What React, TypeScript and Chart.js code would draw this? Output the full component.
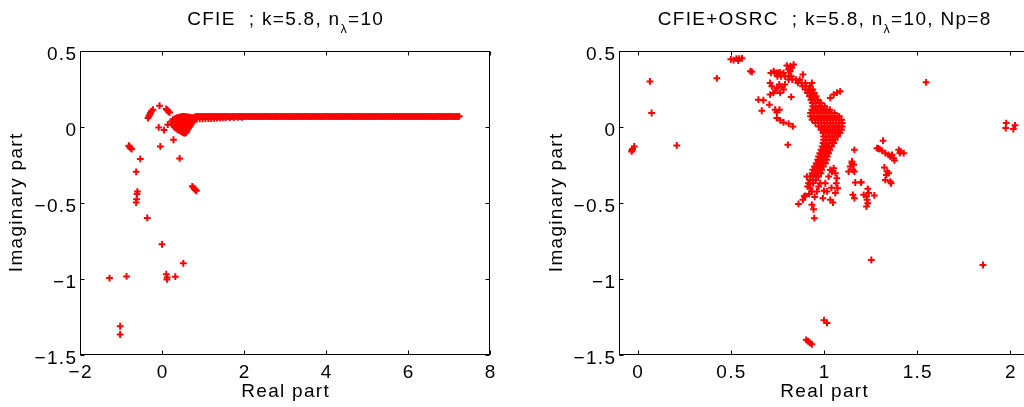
import React, { useEffect, useRef } from 'react';
import { Chart, registerables } from 'chart.js';
Chart.register(...registerables);

type Pt = [number, number];

// ---------- tick values ----------
const yTicks = [-1.5, -1, -0.5, 0, 0.5];
const cfieXTicks = [-2, 0, 2, 4, 6, 8];
const osrcXTicks = [0, 0.5, 1, 1.5, 2];

// ---------- left panel: CFIE eigenvalues ----------
const cfieOutliers: Pt[] = [
  [-1.28, -0.994], [-1.02, -1.311], [-1.02, -1.365], [-0.864, -0.983],
  [-0.81, -0.123], [-0.79, -0.13], [-0.77, -0.139], [-0.74, -0.145],
  [-0.53, -0.21], [-0.63, -0.295], [-0.6, -0.425], [-0.61, -0.44], [-0.62, -0.475], [-0.63, -0.497],
  [-0.36, -0.598],
  [-0.34, 0.059], [-0.32, 0.07], [-0.3, 0.081], [-0.28, 0.092], [-0.26, 0.103], [-0.22, 0.114],
  [-0.06, 0.14], [0.105, 0.119], [0.125, 0.112], [0.14, 0.108], [0.16, 0.1], [0.185, 0.096],
  [-0.08, -0.003], [0.05, -0.02], [-0.04, -0.128], [0.14, 0.015], [0.28, -0.084], [0.43, -0.207],
  [0.74, -0.39], [0.77, -0.4], [0.8, -0.41], [0.82, -0.415], [0.84, -0.42],
  [0.0, -0.772], [0.52, -0.897], [0.105, -0.968], [0.12, -1.003], [0.125, -0.99], [0.325, -0.985],
];

const cfieCluster: Pt[] = [
  [0.227, 0.037], [0.25, 0.02], [0.266, 0.015], [0.29, 0.005], [0.308, 0], [0.33, -0.005],
  [0.349, -0.007], [0.37, -0.012], [0.388, -0.018], [0.41, -0.02], [0.43, -0.022], [0.45, -0.026],
  [0.47, -0.029], [0.49, -0.032], [0.51, -0.035], [0.53, -0.038], [0.552, -0.04], [0.57, -0.038],
  [0.593, -0.035], [0.61, -0.025], [0.632, -0.013], [0.65, -0.005], [0.674, 0.004], [0.695, 0.012],
  [0.715, 0.022], [0.735, 0.03], [0.755, 0.037], [0.78, 0.045], [0.8, 0.05],
  [0.266, 0.048], [0.3, 0.052], [0.33, 0.057], [0.36, 0.06], [0.388, 0.061], [0.42, 0.063],
  [0.45, 0.066], [0.48, 0.068], [0.51, 0.07], [0.54, 0.07], [0.57, 0.068], [0.6, 0.066],
  [0.63, 0.066], [0.66, 0.064], [0.7, 0.063], [0.74, 0.062], [0.78, 0.062],
  [0.3, 0.03], [0.35, 0.025], [0.4, 0.02], [0.45, 0.015], [0.5, 0.01], [0.55, 0.005],
  [0.6, 0.01], [0.65, 0.02], [0.7, 0.035], [0.75, 0.048],
  [0.35, 0.042], [0.4, 0.04], [0.45, 0.04], [0.5, 0.042], [0.55, 0.043], [0.6, 0.045],
  [0.65, 0.046], [0.7, 0.05], [0.4, 0.0], [0.45, -0.006], [0.5, -0.012], [0.55, -0.016],
  [0.6, -0.012], [0.65, 0.002], [0.45, 0.028], [0.5, 0.026], [0.55, 0.024], [0.6, 0.03],
  [0.85, 0.052], [0.92, 0.054], [0.99, 0.053], [1.06, 0.055], [1.13, 0.056], [1.2, 0.055],
  [1.27, 0.057], [1.34, 0.058], [1.41, 0.058], [1.48, 0.06], [1.55, 0.06], [1.65, 0.062],
  [1.75, 0.062], [1.85, 0.063], [1.95, 0.064],
];

// long branch of eigenvalues: [imaginary part, real parts]
const cfieLineRows: [number, number[]][] = [
  [0.07, [
    0.82, 0.89, 0.96, 1.03, 1.1, 1.17, 1.24, 1.31, 1.38, 1.45, 1.52, 1.59, 1.66, 1.73, 1.8, 1.87,
    1.94, 2.01, 2.08, 2.15, 2.22, 2.29, 2.36, 2.43, 2.5, 2.57, 2.64, 2.71, 2.78, 2.85, 2.92, 2.99,
    3.06, 3.13, 3.2, 3.27, 3.34, 3.41, 3.48, 3.55, 3.62, 3.69, 3.76, 3.83, 3.9, 3.97, 4.04, 4.11,
    4.18, 4.25, 4.32, 4.39, 4.46, 4.53, 4.6, 4.67, 4.74, 4.81, 4.88, 4.95, 5.02, 5.09, 5.16, 5.23,
    5.3, 5.37, 5.44, 5.51, 5.58, 5.65, 5.72, 5.79, 5.86, 5.93, 6.0, 6.07, 6.14, 6.21, 6.28, 6.35,
    6.42, 6.49, 6.56, 6.63, 6.7, 6.77, 6.84, 6.91, 6.98, 7.05, 7.12, 7.19, 7.25,
  ]],
  [0.068, [
    0.855, 0.925, 0.995, 1.065, 1.135, 1.205, 1.275, 1.345, 1.415, 1.485, 1.555, 1.625, 1.695, 1.765,
    1.835, 1.905, 1.975, 2.045, 2.115, 2.185, 2.255, 2.325, 2.395, 2.465, 2.535, 2.605, 2.675, 2.745,
    2.815, 2.885, 2.955, 3.025, 3.095, 3.165, 3.235, 3.305, 3.375, 3.445, 3.515, 3.585, 3.655, 3.725,
    3.795, 3.865, 3.935, 4.005, 4.075, 4.145, 4.215, 4.285, 4.355, 4.425, 4.495, 4.565, 4.635, 4.705,
    4.775, 4.845, 4.915, 4.985, 5.055, 5.125, 5.195, 5.265, 5.335, 5.405, 5.475, 5.545, 5.615, 5.685,
    5.755, 5.825, 5.895, 5.965, 6.035, 6.105, 6.175, 6.245, 6.315, 6.385, 6.455, 6.525, 6.595, 6.665,
    6.735, 6.805, 6.875, 6.945, 7.015, 7.085, 7.155, 7.215,
  ]],
];

// ---------- right panel: CFIE+OSRC eigenvalues ----------
const osrcOutliers: Pt[] = [
  [-0.032, -0.161], [-0.03, -0.152], [-0.027, -0.145], [-0.018, -0.128],
  [0.066, 0.3], [0.075, 0.092], [0.21, -0.121], [0.425, 0.32],
  [0.5, 0.445], [0.515, 0.44], [0.53, 0.45], [0.545, 0.45], [0.56, 0.452], [0.54, 0.437],
  [0.605, 0.367], [0.613, 0.363],
  [0.73, 0.367], [0.747, 0.356], [0.765, 0.36], [0.783, 0.356],
  [0.801, 0.404], [0.819, 0.4], [0.828, 0.389], [0.81, 0.378], [0.837, 0.411], [0.819, 0.367],
  [0.887, 0.345], [0.935, 0.29],
  [1.034, 0.191], [1.052, 0.213], [1.07, 0.226], [1.087, 0.235],
  [0.711, 0.29], [0.72, 0.268], [0.747, 0.257], [0.774, 0.264], [0.729, 0.224], [0.711, 0.213],
  [0.783, 0.246], [0.765, 0.224], [0.824, 0.198], [0.74, 0.24], [0.76, 0.28], [0.79, 0.28],
  [0.648, 0.18], [0.675, 0.176], [0.707, 0.147],
  [0.666, 0.107], [0.738, 0.114], [0.761, 0.114], [0.747, 0.096],
  [0.747, 0.059], [0.765, 0.044], [0.783, 0.03], [0.81, 0.022], [0.833, 0.004],
  [0.806, -0.117],
  [1.052, -0.271], [1.043, -0.293], [1.061, -0.304], [1.069, -0.337], [1.066, -0.37], [1.073, -0.403],
  [1.061, -0.435], [1.034, -0.479], [1.048, -0.497], [0.994, -0.468], [1.016, -0.424], [1.007, -0.37],
  [0.971, -0.392], [0.962, -0.424], [0.935, -0.424], [0.908, -0.326], [0.917, -0.37], [0.926, -0.403],
  [0.912, -0.392], [0.899, -0.453], [0.887, -0.479], [0.894, -0.457], [0.863, -0.506], [0.935, -0.512],
  [0.944, -0.541], [0.948, -0.6], [1.034, -0.282], [1.025, -0.326], [0.98, -0.37], [0.95, -0.46],
  [1.0, -0.42], [1.04, -0.4], [0.92, -0.44],
  [1.163, -0.15], [1.29, -0.141],
  [1.15, -0.227], [1.159, -0.249], [1.141, -0.26], [1.155, -0.282], [1.132, -0.293], [1.163, -0.293], [1.15, -0.238],
  [1.168, -0.365], [1.198, -0.365], [1.155, -0.446], [1.163, -0.468],
  [1.548, 0.294], [1.978, 0.026], [1.975, -0.007], [2.016, -0.013], [2.025, 0.011],
  [1.317, -0.09], [1.285, -0.139], [1.299, -0.145], [1.312, -0.156], [1.329, -0.172], [1.347, -0.183],
  [1.356, -0.194], [1.365, -0.183], [1.374, -0.205], [1.378, -0.22],
  [1.401, -0.15], [1.41, -0.161], [1.407, -0.172], [1.428, -0.172],
  [1.324, -0.266], [1.339, -0.293], [1.335, -0.315], [1.347, -0.304], [1.329, -0.348], [1.356, -0.359], [1.36, -0.37],
  [1.2, -0.363], [1.235, -0.407], [1.24, -0.435], [1.213, -0.446], [1.228, -0.457], [1.27, -0.45],
  [1.231, -0.479], [1.235, -0.501], [1.228, -0.523],
  [1.254, -0.875], [1.853, -0.908],
  [1.0, -1.271], [1.016, -1.289],
  [0.905, -1.4], [0.915, -1.41], [0.925, -1.42], [0.935, -1.43],
];

// dense arc of eigenvalues: [imaginary part, real parts along that row]
const osrcBandRows: [number, number[]][] = [
  [0.356, [0.715, 0.735, 0.755]],
  [0.334, [0.75, 0.77, 0.79, 0.81, 0.825]],
  [0.312, [0.81, 0.83, 0.85, 0.87]],
  [0.29, [0.86, 0.88, 0.9]],
  [0.268, [0.885, 0.905, 0.925]],
  [0.246, [0.9, 0.92, 0.94]],
  [0.224, [0.912, 0.93, 0.948]],
  [0.202, [0.922, 0.94, 0.958]],
  [0.18, [0.93, 0.948, 0.966]],
  [0.158, [0.937, 0.955, 0.973, 0.985]],
  [0.136, [0.94, 0.956, 0.972, 0.988, 1.004]],
  [0.114, [0.935, 0.951, 0.967, 0.983, 0.999, 1.015, 1.031]],
  [0.092, [0.928, 0.944, 0.96, 0.976, 0.992, 1.008, 1.024, 1.04, 1.056]],
  [0.07, [0.928, 0.944, 0.96, 0.976, 0.992, 1.008, 1.024, 1.04, 1.056, 1.072, 1.082]],
  [0.048, [0.936, 0.952, 0.968, 0.984, 1.0, 1.016, 1.032, 1.048, 1.064, 1.08, 1.094]],
  [0.026, [0.954, 0.97, 0.986, 1.002, 1.018, 1.034, 1.05, 1.066, 1.082, 1.098]],
  [0.004, [0.972, 0.988, 1.004, 1.02, 1.036, 1.052, 1.068, 1.084, 1.098]],
  [-0.018, [0.984, 1.0, 1.016, 1.032, 1.048, 1.064, 1.08, 1.094]],
  [-0.04, [0.995, 1.011, 1.027, 1.043, 1.059, 1.075, 1.086]],
  [-0.062, [0.998, 1.014, 1.03, 1.046, 1.062, 1.072]],
  [-0.084, [0.998, 1.014, 1.03, 1.046, 1.06]],
  [-0.106, [0.995, 1.011, 1.027, 1.043, 1.052]],
  [-0.128, [0.99, 1.006, 1.022, 1.04]],
  [-0.15, [0.984, 1.0, 1.016, 1.032]],
  [-0.172, [0.977, 0.993, 1.009, 1.025]],
  [-0.194, [0.971, 0.987, 1.003, 1.018]],
  [-0.216, [0.966, 0.982, 0.998, 1.014]],
  [-0.238, [0.958, 0.974, 0.99, 1.008]],
  [-0.26, [0.948, 0.964, 0.98, 0.996]],
  [-0.282, [0.94, 0.956, 0.972, 0.988]],
  [-0.304, [0.936, 0.952, 0.968, 0.984]],
  [-0.326, [0.926, 0.942, 0.958, 0.97]],
  [-0.348, [0.924, 0.94, 0.956]],
  [-0.37, [0.926, 0.942]],
];

// ---------- drawing helpers ----------
const FAMILY = "'Liberation Sans', Arial, Helvetica, sans-serif";
const FS = 19;
const SP = 1.3;

type Run = { text: string; size: number; dy?: number };

function runsWidth(ctx: CanvasRenderingContext2D, runs: Run[]) {
  let w = 0;
  let n = 0;
  for (const r of runs) {
    ctx.font = `${r.size}px ${FAMILY}`;
    for (const ch of Array.from(r.text)) {
      w += ctx.measureText(ch).width;
      n++;
    }
  }
  return w + SP * Math.max(0, n - 1);
}

function drawRuns(ctx: CanvasRenderingContext2D, runs: Run[], x: number, y: number, align: 'left' | 'center' | 'right') {
  const w = runsWidth(ctx, runs);
  let cx = align === 'center' ? x - w / 2 : align === 'right' ? x - w : x;
  ctx.textAlign = 'left';
  ctx.textBaseline = 'alphabetic';
  for (const r of runs) {
    ctx.font = `${r.size}px ${FAMILY}`;
    for (const ch of Array.from(r.text)) {
      ctx.fillText(ch, cx, y + (r.dy || 0));
      cx += ctx.measureText(ch).width + SP;
    }
  }
}

const fmt = (v: number) => (v < 0 ? '\u2212' + String(-v) : String(v));

const matlabAxesPlugin = {
  id: 'matlabAxes',
  afterDatasetsDraw(chart: any, _args: any, opts: any) {
    const { ctx, chartArea: a, scales } = chart;
    const xs = scales.x;
    const ys = scales.y;
    ctx.save();
    const L = Math.round(a.left) + 0.5;
    const R = Math.round(a.right) - 0.5;
    const T = Math.round(a.top) + 0.5;
    const B = Math.round(a.bottom) - 0.5;
    ctx.strokeStyle = '#000';
    ctx.lineWidth = 1;
    ctx.strokeRect(L, T, R - L, B - T);
    const tl = 4;
    ctx.beginPath();
    xs.ticks.forEach((t: any) => {
      const x = Math.round(xs.getPixelForValue(t.value)) + 0.5;
      ctx.moveTo(x, B); ctx.lineTo(x, B - tl);
      ctx.moveTo(x, T); ctx.lineTo(x, T + tl);
    });
    ys.ticks.forEach((t: any) => {
      const y = Math.round(ys.getPixelForValue(t.value)) + 0.5;
      ctx.moveTo(L, y); ctx.lineTo(L + tl, y);
      ctx.moveTo(R, y); ctx.lineTo(R - tl, y);
    });
    ctx.stroke();

    ctx.fillStyle = '#000';
    xs.ticks.forEach((t: any) => {
      drawRuns(ctx, [{ text: fmt(t.value), size: FS }], xs.getPixelForValue(t.value), a.bottom + 23, 'center');
    });
    ys.ticks.forEach((t: any) => {
      drawRuns(ctx, [{ text: fmt(t.value), size: FS }], a.left - 4, ys.getPixelForValue(t.value) + 9.3, 'right');
    });

    const cx = (a.left + a.right) / 2;
    const cy = (a.top + a.bottom) / 2;
    drawRuns(ctx, [{ text: 'Real part', size: FS }], cx, a.bottom + 42, 'center');
    ctx.save();
    ctx.translate(opts.yTitleX, cy);
    ctx.rotate(-Math.PI / 2);
    drawRuns(ctx, [{ text: 'Imaginary part', size: FS }], 0, 0, 'center');
    ctx.restore();

    drawRuns(ctx, opts.title, cx, 25, 'center');
    ctx.restore();
  },
};

function pts(p: Pt[]) {
  return p.map(([x, y]) => ({ x, y }));
}
function rowPts(rows: [number, number[]][]) {
  return rows.flatMap(([im, res]) => res.map((re) => ({ x: re, y: im })));
}

function baseDataset(data: { x: number; y: number }[]) {
  return {
    data,
    pointStyle: 'cross',
    pointRadius: 3.4,
    pointBorderWidth: 2,
    borderColor: '#ff0000',
    backgroundColor: '#ff0000',
    pointHoverRadius: 3.4,
    clip: false,
  };
}

function makeConfig(
  datasets: any[],
  xMin: number,
  xMax: number,
  xTicks: number[],
  yAxisWidth: number,
  rightPad: number,
  yTitleX: number,
  title: Run[]
) {
  return {
    type: 'scatter',
    data: { datasets },
    plugins: [matlabAxesPlugin],
    options: {
      animation: false,
      responsive: false,
      devicePixelRatio: 1,
      events: [],
      layout: { padding: { left: 0, right: rightPad, top: 51, bottom: 0 } },
      plugins: {
        legend: { display: false },
        tooltip: { enabled: false },
        matlabAxes: { yTitleX, title },
      },
      scales: {
        x: {
          type: 'linear',
          min: xMin,
          max: xMax,
          afterBuildTicks: (s: any) => { s.ticks = xTicks.map((v) => ({ value: v })); },
          afterFit: (s: any) => { s.height = 52; },
          ticks: { display: false },
          grid: { display: false },
          border: { display: false },
        },
        y: {
          type: 'linear',
          min: -1.5,
          max: 0.5,
          afterBuildTicks: (s: any) => { s.ticks = yTicks.map((v) => ({ value: v })); },
          afterFit: (s: any) => { s.width = yAxisWidth; },
          ticks: { display: false },
          grid: { display: false },
          border: { display: false },
        },
      },
    },
  };
}

function Panel(props: { width: number; left: number; config: () => any }) {
  const ref = useRef<HTMLCanvasElement | null>(null);
  useEffect(() => {
    if (!ref.current) return;
    const chart = new Chart(ref.current, props.config());
    return () => chart.destroy();
  }, []);
  return (
    <canvas
      ref={ref}
      width={props.width}
      height={407}
      style={{ position: 'absolute', left: props.left, top: 0, width: props.width, height: 407, display: 'block' }}
    />
  );
}

export default function App() {
  const leftConfig = () =>
    makeConfig(
      [
        baseDataset(pts(cfieOutliers)),
        baseDataset(pts(cfieCluster)),
        baseDataset(rowPts(cfieLineRows)),
      ],
      -2,
      8,
      cfieXTicks,
      80,
      22,
      22,
      [
        { text: 'CFIE  ; k=5.8, n', size: FS },
        { text: '\u03bb', size: 12.5, dy: 8 },
        { text: '=10', size: FS },
      ]
    );
  const rightConfig = () =>
    makeConfig(
      [
        baseDataset(pts(osrcOutliers)),
        baseDataset(rowPts(osrcBandRows)),
      ],
      -0.1,
      2.1,
      osrcXTicks,
      107,
      23,
      50,
      [
        { text: 'CFIE+OSRC  ; k=5.8, n', size: FS },
        { text: '\u03bb', size: 12.5, dy: 8 },
        { text: '=10, Np=8', size: FS },
      ]
    );
  return (
    <div
      style={{
        position: 'fixed',
        left: 0,
        top: 0,
        width: 1024,
        height: 407,
        overflow: 'hidden',
        background: '#fff',
      }}
    >
      <Panel width={512} left={0} config={leftConfig} />
      <Panel width={540} left={512} config={rightConfig} />
    </div>
  );
}
